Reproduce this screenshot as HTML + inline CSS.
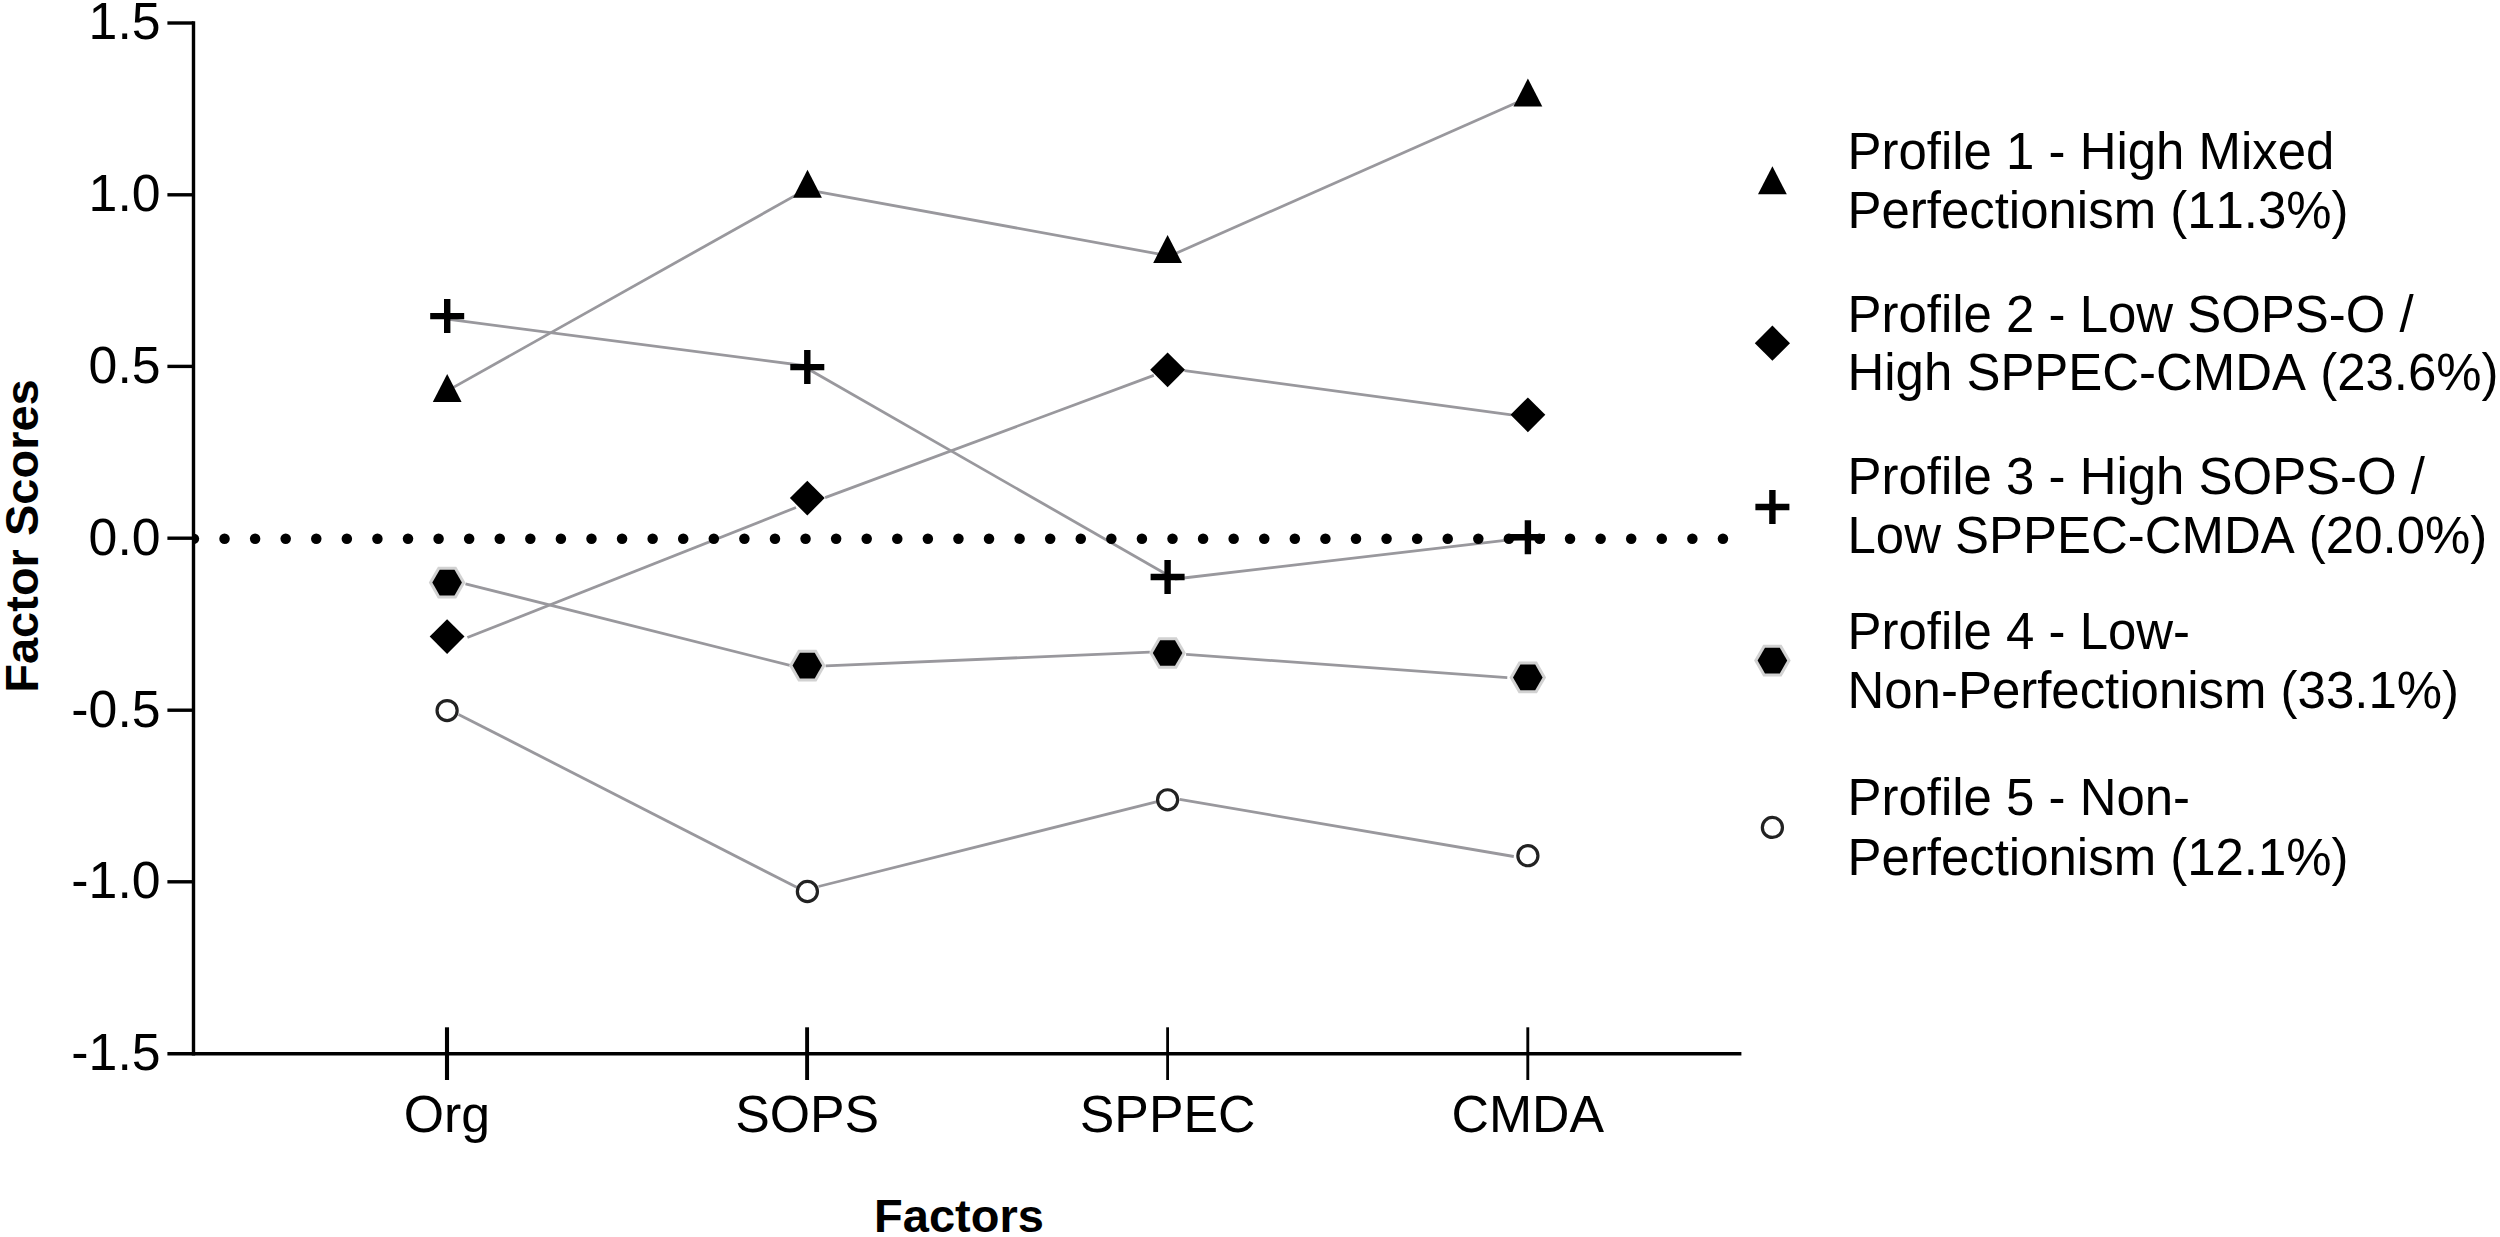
<!DOCTYPE html>
<html lang="en"><head><meta charset="utf-8"><title>Factor Scores by Profile</title>
<style>html,body{margin:0;padding:0;background:#fff;}body{width:2500px;height:1237px;overflow:hidden;}svg{display:block;}text{font-family:"Liberation Sans", Arial, sans-serif;fill:#000;font-kerning:none;}.t{font-size:51.8px;}.lg{font-size:50.95px;}.b{font-size:47px;font-weight:bold;}</style></head><body>
<svg width="2500" height="1237" viewBox="0 0 2500 1237">
<rect width="2500" height="1237" fill="#fff"/>
<g stroke="#99989d" stroke-width="2.8" stroke-linecap="butt" fill="none">
<line x1="447.2" y1="390.9" x2="807.5" y2="188.6"/>
<line x1="807.5" y1="189.8" x2="1167.6" y2="255.6"/>
<line x1="1167.6" y1="257.0" x2="1527.9" y2="97.6"/>
<line x1="467.4" y1="637.5" x2="796.0" y2="507.5"/>
<line x1="825.1" y1="497.6" x2="1153.8" y2="375.4"/>
<line x1="1184.5" y1="370.6" x2="1511.4" y2="414.9"/>
<line x1="447.2" y1="319.2" x2="807.3" y2="366.0"/>
<line x1="807.3" y1="368.5" x2="1167.6" y2="575.0"/>
<line x1="1175.0" y1="579.0" x2="1520.0" y2="538.6"/>
<line x1="465.5" y1="583.8" x2="790.0" y2="665.4"/>
<line x1="825.6" y1="665.9" x2="1149.8" y2="652.2"/>
<line x1="1186.1" y1="654.3" x2="1507.3" y2="677.6"/>
<line x1="458.6" y1="714.4" x2="796.7" y2="887.3"/>
<line x1="818.5" y1="886.5" x2="1156.2" y2="801.9"/>
<line x1="1179.7" y1="799.4" x2="1513.8" y2="856.5"/>
</g>
<g fill="#000">
<path d="M193.50 533.45A5.70 5.25 0 0 1 193.50 543.95Z"/>
<circle cx="224.53" cy="538.7" r="5.25"/>
<circle cx="255.11" cy="538.7" r="5.25"/>
<circle cx="285.69" cy="538.7" r="5.25"/>
<circle cx="316.27" cy="538.7" r="5.25"/>
<circle cx="346.85" cy="538.7" r="5.25"/>
<circle cx="377.43" cy="538.7" r="5.25"/>
<circle cx="408.01" cy="538.7" r="5.25"/>
<circle cx="438.59" cy="538.7" r="5.25"/>
<circle cx="469.17" cy="538.7" r="5.25"/>
<circle cx="499.75" cy="538.7" r="5.25"/>
<circle cx="530.33" cy="538.7" r="5.25"/>
<circle cx="560.91" cy="538.7" r="5.25"/>
<circle cx="591.49" cy="538.7" r="5.25"/>
<circle cx="622.07" cy="538.7" r="5.25"/>
<circle cx="652.65" cy="538.7" r="5.25"/>
<circle cx="683.23" cy="538.7" r="5.25"/>
<circle cx="713.81" cy="538.7" r="5.25"/>
<circle cx="744.39" cy="538.7" r="5.25"/>
<circle cx="774.97" cy="538.7" r="5.25"/>
<circle cx="805.55" cy="538.7" r="5.25"/>
<circle cx="836.13" cy="538.7" r="5.25"/>
<circle cx="866.71" cy="538.7" r="5.25"/>
<circle cx="897.29" cy="538.7" r="5.25"/>
<circle cx="927.87" cy="538.7" r="5.25"/>
<circle cx="958.45" cy="538.7" r="5.25"/>
<circle cx="989.03" cy="538.7" r="5.25"/>
<circle cx="1019.61" cy="538.7" r="5.25"/>
<circle cx="1050.19" cy="538.7" r="5.25"/>
<circle cx="1080.77" cy="538.7" r="5.25"/>
<circle cx="1111.35" cy="538.7" r="5.25"/>
<circle cx="1141.93" cy="538.7" r="5.25"/>
<circle cx="1172.51" cy="538.7" r="5.25"/>
<circle cx="1203.09" cy="538.7" r="5.25"/>
<circle cx="1233.67" cy="538.7" r="5.25"/>
<circle cx="1264.25" cy="538.7" r="5.25"/>
<circle cx="1294.83" cy="538.7" r="5.25"/>
<circle cx="1325.41" cy="538.7" r="5.25"/>
<circle cx="1355.99" cy="538.7" r="5.25"/>
<circle cx="1386.57" cy="538.7" r="5.25"/>
<circle cx="1417.15" cy="538.7" r="5.25"/>
<circle cx="1447.73" cy="538.7" r="5.25"/>
<circle cx="1478.31" cy="538.7" r="5.25"/>
<circle cx="1508.89" cy="538.7" r="5.25"/>
<circle cx="1539.47" cy="538.7" r="5.25"/>
<circle cx="1570.05" cy="538.7" r="5.25"/>
<circle cx="1600.63" cy="538.7" r="5.25"/>
<circle cx="1631.21" cy="538.7" r="5.25"/>
<circle cx="1661.79" cy="538.7" r="5.25"/>
<circle cx="1692.37" cy="538.7" r="5.25"/>
<circle cx="1722.95" cy="538.7" r="5.25"/>
</g>
<g stroke="#000" stroke-width="3.4" fill="none">
<line x1="193.5" y1="21.3" x2="193.5" y2="1055.4"/>
<line x1="167.4" y1="1053.7" x2="1741.4" y2="1053.7"/>
<line x1="167.4" y1="23.0" x2="193.5" y2="23.0"/>
<line x1="167.4" y1="194.8" x2="193.5" y2="194.8"/>
<line x1="167.4" y1="366.4" x2="193.5" y2="366.4"/>
<line x1="167.4" y1="538.2" x2="193.5" y2="538.2"/>
<line x1="167.4" y1="710.2" x2="193.5" y2="710.2"/>
<line x1="167.4" y1="881.8" x2="193.5" y2="881.8"/>
<line x1="447.0" y1="1027.3" x2="447.0" y2="1080.0" stroke-width="4.1"/>
<line x1="807.1" y1="1027.3" x2="807.1" y2="1080.0" stroke-width="3.9"/>
<line x1="1167.6" y1="1027.3" x2="1167.6" y2="1080.0" stroke-width="2.8"/>
<line x1="1527.8" y1="1027.3" x2="1527.8" y2="1080.0" stroke-width="2.9"/>
</g>
<text class="t" x="160.6" y="39.4" text-anchor="end">1.5</text>
<text class="t" x="160.6" y="211.2" text-anchor="end">1.0</text>
<text class="t" x="160.6" y="382.8" text-anchor="end">0.5</text>
<text class="t" x="160.6" y="554.6" text-anchor="end">0.0</text>
<text class="t" x="160.6" y="726.6" text-anchor="end">-0.5</text>
<text class="t" x="160.6" y="898.2" text-anchor="end">-1.0</text>
<text class="t" x="160.6" y="1070.1" text-anchor="end">-1.5</text>
<text class="t" x="447.0" y="1132.2" text-anchor="middle">Org</text>
<text class="t" x="807.1" y="1132.2" text-anchor="middle">SOPS</text>
<text class="t" x="1167.6" y="1132.2" text-anchor="middle">SPPEC</text>
<text class="t" x="1527.8" y="1132.2" text-anchor="middle">CMDA</text>
<text class="b" x="959" y="1232.4" text-anchor="middle">Factors</text>
<text class="b" transform="translate(37.8 536) rotate(-90)" text-anchor="middle">Factor Scores</text>
<polygon points="447.2,374.1 432.8,402.1 461.6,402.1" fill="#000"/>
<polygon points="807.5,169.7 793.1,197.7 821.9,197.7" fill="#000"/>
<polygon points="1167.6,234.9 1153.2,262.9 1182.0,262.9" fill="#000"/>
<polygon points="1527.9,78.5 1513.5,106.5 1542.3,106.5" fill="#000"/>
<polygon points="447.1,619.2 464.5,636.6 447.1,654.0 429.7,636.6" fill="#000"/>
<polygon points="807.3,480.7 824.7,498.1 807.3,515.5 789.9,498.1" fill="#000"/>
<polygon points="1167.6,352.4 1185.0,369.8 1167.6,387.2 1150.2,369.8" fill="#000"/>
<polygon points="1527.9,397.4 1545.3,414.8 1527.9,432.2 1510.5,414.8" fill="#000"/>
<path d="M430.2 316.1H464.2M447.2 299.1V333.1" stroke="#000" stroke-width="6.4" fill="none"/>
<path d="M790.3 367.1H824.3M807.3 350.1V384.1" stroke="#000" stroke-width="6.4" fill="none"/>
<path d="M1150.6 577.0H1184.6M1167.6 560.0V594.0" stroke="#000" stroke-width="6.4" fill="none"/>
<path d="M1510.9 537.3H1544.9M1527.9 520.3V554.3" stroke="#000" stroke-width="6.4" fill="none"/>
<polygon points="465.40,582.60 456.25,598.45 437.95,598.45 428.80,582.60 437.95,566.75 456.25,566.75" fill="#d2d2d2"/><polygon points="461.90,582.60 454.50,595.42 439.70,595.42 432.30,582.60 439.70,569.78 454.50,569.78" fill="#000"/>
<polygon points="825.60,665.60 816.45,681.45 798.15,681.45 789.00,665.60 798.15,649.75 816.45,649.75" fill="#d2d2d2"/><polygon points="822.10,665.60 814.70,678.42 799.90,678.42 792.50,665.60 799.90,652.78 814.70,652.78" fill="#000"/>
<polygon points="1185.90,653.00 1176.75,668.85 1158.45,668.85 1149.30,653.00 1158.45,637.15 1176.75,637.15" fill="#d2d2d2"/><polygon points="1182.40,653.00 1175.00,665.82 1160.20,665.82 1152.80,653.00 1160.20,640.18 1175.00,640.18" fill="#000"/>
<polygon points="1546.10,677.40 1536.95,693.25 1518.65,693.25 1509.50,677.40 1518.65,661.55 1536.95,661.55" fill="#d2d2d2"/><polygon points="1542.60,677.40 1535.20,690.22 1520.40,690.22 1513.00,677.40 1520.40,664.58 1535.20,664.58" fill="#000"/>
<circle cx="447.1" cy="710.6" r="10.05" fill="#fff" stroke="#222" stroke-width="3.2"/>
<circle cx="807.4" cy="891.5" r="10.05" fill="#fff" stroke="#222" stroke-width="3.2"/>
<circle cx="1167.6" cy="799.8" r="10.05" fill="#fff" stroke="#222" stroke-width="3.2"/>
<circle cx="1527.9" cy="855.7" r="10.05" fill="#fff" stroke="#222" stroke-width="3.2"/>
<polygon points="1772.4,166.3 1758.0,194.3 1786.8,194.3" fill="#000"/>
<polygon points="1772.4,325.6 1790.0,343.2 1772.4,360.8 1754.8,343.2" fill="#000"/>
<path d="M1755.4 507.0H1789.4M1772.4 490.0V524.0" stroke="#000" stroke-width="6.4" fill="none"/>
<polygon points="1790.70,660.60 1781.55,676.45 1763.25,676.45 1754.10,660.60 1763.25,644.75 1781.55,644.75" fill="#d2d2d2"/><polygon points="1787.20,660.60 1779.80,673.42 1765.00,673.42 1757.60,660.60 1765.00,647.78 1779.80,647.78" fill="#000"/>
<circle cx="1772.4" cy="827.4" r="10.05" fill="#fff" stroke="#222" stroke-width="3.2"/>
<text class="lg" x="1847.5" y="168.9">Profile 1 - High Mixed</text>
<text class="lg" x="1847.5" y="227.7">Perfectionism (11.3%)</text>
<text class="lg" x="1847.5" y="331.5">Profile 2 - Low SOPS-O /</text>
<text class="lg" x="1847.5" y="390.4">High SPPEC-CMDA (23.6%)</text>
<text class="lg" x="1847.5" y="494.2">Profile 3 - High SOPS-O /</text>
<text class="lg" x="1847.5" y="552.9">Low SPPEC-CMDA (20.0%)</text>
<text class="lg" x="1847.5" y="648.9">Profile 4 - Low-</text>
<text class="lg" x="1847.5" y="708.1">Non-Perfectionism (33.1%)</text>
<text class="lg" x="1847.5" y="814.8">Profile 5 - Non-</text>
<text class="lg" x="1847.5" y="874.6">Perfectionism (12.1%)</text>
</svg></body></html>
